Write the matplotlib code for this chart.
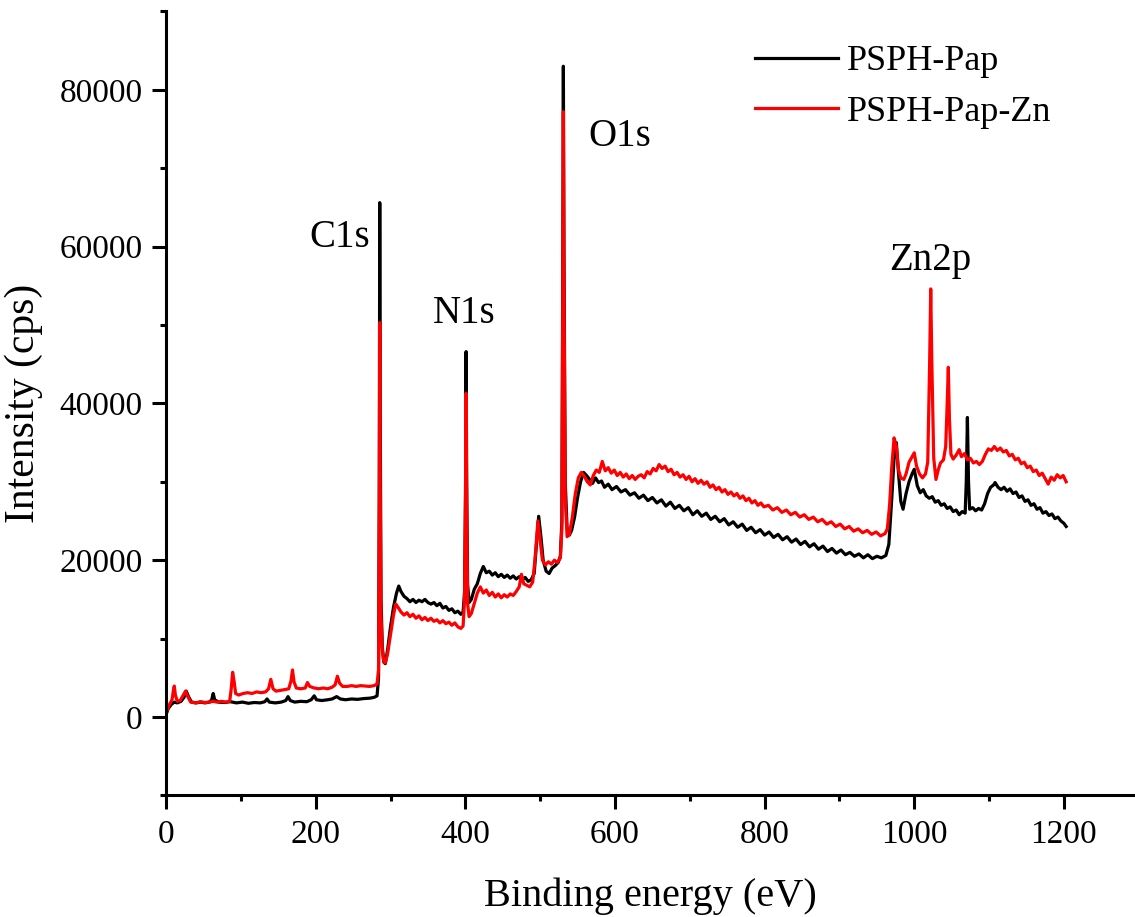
import matplotlib
matplotlib.use("Agg")
import matplotlib.pyplot as plt
from matplotlib.ticker import MultipleLocator

plt.rcParams['font.family'] = ['Liberation Serif', 'DejaVu Serif']

# PSPH-Pap (black), (binding energy eV, cps)
pap_points = [
    (0, 300), (3, 1100), (7, 1600), (11, 1900), (15, 1800), (20, 2000), (24, 2500), (27, 3300),
    (30, 2600), (34, 1900), (40, 1800), (46, 1900), (52, 1800), (58, 1900), (61, 2200), (63, 3000),
    (65, 2200), (70, 1900), (78, 1850), (86, 1950), (94, 1800), (102, 1900), (110, 1750), (118, 1850),
    (126, 1800), (132, 1950), (135, 2300), (138, 1900), (146, 1800), (154, 1900), (160, 2100),
    (163, 2600), (166, 2100), (172, 1900), (180, 2000), (188, 1950), (194, 2200), (198, 2700),
    (201, 2200), (208, 2100), (216, 2200), (222, 2300), (228, 2600), (233, 2300), (240, 2200),
    (248, 2300), (256, 2250), (264, 2350), (272, 2400), (278, 2500), (282, 2700), (284, 5000),
    (285, 30000), (285.6, 65600), (286.2, 40000), (287.3, 15000), (289, 9000), (291, 7000),
    (293, 6800), (296, 8500), (300, 11500), (304, 14000), (308, 15800), (311, 16700), (314, 16000),
    (318, 15400), (322, 15100), (326, 14700), (330, 15000), (334, 14600), (338, 14900), (342, 14700),
    (346, 15000), (350, 14600), (354, 14400), (358, 14600), (362, 14200), (366, 14500), (370, 13900),
    (374, 14100), (378, 13600), (382, 13800), (386, 13300), (390, 13500), (394, 13100), (397, 13400),
    (399, 16000), (400.3, 30000), (401, 46600), (401.8, 30000), (403, 17000), (405, 14600),
    (408, 15000), (412, 16300), (416, 17000), (420, 18300), (424, 19200), (428, 18400), (432, 18600),
    (436, 18100), (440, 18400), (444, 17900), (448, 18200), (452, 17800), (456, 18100), (460, 17700),
    (464, 18000), (468, 17600), (472, 17900), (476, 17500), (480, 17800), (484, 17300), (488, 17500),
    (492, 18300), (495, 22000), (498, 25600), (501, 23000), (504, 20000), (508, 18600), (512, 18300),
    (516, 19000), (520, 19300), (524, 19700), (527, 20500), (529, 25000), (530.3, 60000),
    (531, 83000), (531.8, 60000), (533.5, 30000), (536, 24000), (539, 23200), (542, 23800),
    (546, 25500), (550, 28000), (554, 30000), (558, 31200), (562, 30800), (566, 30300), (570, 29800),
    (574, 30500), (578, 29900), (582, 30100), (586, 29300), (591, 29700), (596, 29000), (602, 29400),
    (608, 28700), (614, 29000), (620, 28300), (626, 28600), (632, 27900), (638, 28300), (644, 27600),
    (650, 28000), (656, 27300), (662, 27700), (668, 26900), (674, 27400), (680, 26600), (686, 27000),
    (692, 26300), (698, 26700), (704, 25800), (710, 26300), (716, 25600), (722, 26000), (728, 25200),
    (734, 25600), (740, 24900), (746, 25300), (752, 24500), (758, 24900), (764, 24200), (770, 24600),
    (776, 23800), (782, 24200), (788, 23500), (794, 23900), (800, 23200), (806, 23600), (812, 22900),
    (818, 23300), (824, 22600), (830, 23000), (836, 22300), (842, 22700), (848, 22000), (854, 22400),
    (860, 21700), (866, 22100), (872, 21400), (878, 21800), (884, 21100), (890, 21500), (896, 20900),
    (902, 21300), (908, 20700), (914, 21000), (920, 20500), (926, 20800), (932, 20300), (938, 20700),
    (944, 20200), (950, 20500), (956, 20300), (962, 20600), (966, 22000), (970, 28000), (973, 33000),
    (976, 35000), (979, 31000), (982, 27500), (985, 26500), (989, 28500), (993, 30000), (997, 31000),
    (1000, 31600), (1004, 29500), (1008, 28600), (1012, 29000), (1016, 28200), (1020, 27900),
    (1024, 28100), (1028, 27400), (1032, 27600), (1036, 27000), (1040, 27200), (1044, 26600),
    (1048, 26800), (1052, 26200), (1056, 26400), (1060, 25800), (1064, 26200), (1068, 26000),
    (1069.5, 30000), (1071, 38200), (1072.5, 30000), (1074, 26500), (1078, 26700), (1082, 26300),
    (1086, 26600), (1090, 26400), (1094, 27200), (1098, 28500), (1102, 29300), (1106, 29600),
    (1108, 29900), (1112, 29300), (1116, 29000), (1120, 29300), (1124, 28800), (1128, 29100),
    (1132, 28500), (1136, 28700), (1140, 28000), (1144, 28200), (1148, 27500), (1152, 27700),
    (1156, 27000), (1160, 27200), (1164, 26500), (1168, 26700), (1172, 26000), (1176, 26200),
    (1180, 25700), (1184, 25900), (1188, 25300), (1192, 25500), (1196, 25000), (1200, 24700),
    (1203, 24300),
]

# PSPH-Pap-Zn (red)
zn_points = [
    (0, 500), (4, 1500), (8, 2200), (10, 3500), (11, 3950), (12.5, 2800), (15, 2000), (19, 2100),
    (23, 2800), (26, 3300), (29, 2600), (33, 1900), (40, 1800), (46, 1950), (52, 1850), (58, 1900),
    (63, 2000), (68, 1900), (74, 2000), (80, 1900), (85, 2000), (87, 3500), (89, 5700), (91, 4500),
    (93, 3000), (97, 2800), (103, 3000), (109, 3100), (115, 3000), (121, 3200), (127, 3100),
    (133, 3200), (137, 3600), (140, 4800), (143, 3600), (147, 3300), (153, 3400), (159, 3500),
    (164, 3600), (167, 4600), (169, 6000), (171, 4500), (174, 3700), (180, 3600), (186, 3700),
    (189, 4400), (192, 3900), (198, 3700), (204, 3600), (210, 3700), (216, 3600), (222, 3800),
    (226, 4100), (229, 5200), (232, 4300), (236, 3900), (242, 3900), (248, 4000), (254, 3900),
    (260, 4000), (266, 3950), (272, 3900), (278, 4000), (282, 4200), (284, 6000), (285, 25000),
    (285.6, 50300), (286.2, 30000), (287.3, 13000), (289, 8500), (291, 7000), (293, 6900),
    (296, 8000), (300, 10500), (304, 13000), (307, 14400), (310, 14000), (314, 13400), (318, 13000),
    (322, 13300), (326, 12800), (330, 13100), (334, 12600), (338, 12900), (342, 12400), (346, 12700),
    (350, 12300), (354, 12600), (358, 12200), (362, 12400), (366, 12000), (370, 12300), (374, 11900),
    (378, 12100), (382, 11700), (386, 12000), (390, 11500), (394, 11300), (397, 11600), (399, 15000),
    (400.3, 28000), (401, 41300), (401.8, 26000), (403, 14500), (405, 12800), (408, 13200),
    (412, 14500), (416, 15800), (420, 16600), (424, 15800), (428, 16200), (432, 15500), (436, 15900),
    (440, 15300), (444, 15700), (448, 15200), (452, 15600), (456, 15300), (460, 15700), (464, 15500),
    (468, 16000), (472, 16600), (475, 18200), (478, 17000), (482, 16800), (486, 16600), (490, 17200),
    (493, 20000), (497, 25000), (500, 22500), (503, 20000), (507, 19400), (511, 19800), (515, 19500),
    (519, 20000), (523, 19700), (527, 20300), (529, 24000), (530.3, 55000), (531, 77200),
    (531.8, 55000), (533.5, 28000), (536, 23000), (539, 23300), (543, 25500), (547, 28500),
    (551, 30500), (555, 31200), (559, 30700), (563, 30000), (567, 29600), (571, 30800), (575, 31500),
    (579, 31200), (583, 32600), (587, 31400), (591, 31800), (595, 31100), (599, 31500), (603, 30800),
    (607, 31200), (611, 30600), (615, 31000), (619, 30400), (623, 30800), (627, 30300), (631, 30700),
    (635, 30900), (639, 30500), (643, 31300), (647, 31000), (651, 31700), (655, 31400), (659, 32200),
    (663, 31700), (667, 32000), (671, 31300), (675, 31600), (679, 30900), (683, 31200), (687, 30600),
    (691, 30900), (695, 30300), (699, 30700), (703, 30000), (707, 30400), (711, 29800), (715, 30200),
    (719, 29700), (723, 30000), (727, 29300), (731, 29600), (735, 29000), (739, 29300), (743, 28700),
    (747, 29000), (751, 28400), (755, 28700), (759, 28200), (763, 28500), (767, 27900), (771, 28200),
    (775, 27600), (779, 27900), (783, 27300), (787, 27600), (791, 27000), (795, 27300), (799, 26800),
    (805, 27000), (811, 26400), (817, 26700), (823, 26100), (829, 26400), (835, 25800), (841, 26100),
    (847, 25500), (853, 25800), (859, 25200), (865, 25500), (871, 24900), (877, 25200), (883, 24600),
    (889, 24900), (895, 24300), (901, 24600), (907, 24000), (913, 24300), (919, 23700), (925, 24000),
    (931, 23500), (937, 23800), (943, 23300), (949, 23600), (955, 23100), (961, 23400), (964, 24000),
    (967, 27000), (970, 32000), (973, 35600), (976, 34500), (979, 31500), (982, 30500), (986, 30300),
    (989, 31000), (993, 32500), (997, 33200), (1000, 33700), (1003, 32000), (1007, 31000),
    (1011, 30500), (1015, 31000), (1018, 32500), (1020.5, 45000), (1022, 54600), (1023.5, 45000),
    (1026, 33000), (1029, 30300), (1032, 31500), (1035, 32400), (1039, 32800), (1042, 34500),
    (1044, 40000), (1045.5, 44600), (1047, 38000), (1049, 33500), (1052, 32900), (1056, 33400),
    (1060, 34100), (1063, 33200), (1067, 33600), (1071, 32800), (1075, 33000), (1079, 32400),
    (1083, 32600), (1087, 32200), (1091, 32600), (1095, 33500), (1099, 34200), (1103, 34000),
    (1107, 34500), (1111, 34000), (1115, 34300), (1119, 33800), (1123, 34000), (1127, 33300),
    (1131, 33500), (1135, 32800), (1139, 33000), (1143, 32300), (1147, 32500), (1151, 31800),
    (1155, 32000), (1159, 31300), (1163, 31500), (1167, 30800), (1171, 31100), (1175, 30400),
    (1179, 29700), (1183, 30600), (1187, 30200), (1191, 30900), (1195, 30500), (1199, 30800),
    (1203, 30000),
]

pap_ev = [p[0] for p in pap_points]
pap_cps = [p[1] for p in pap_points]
zn_ev = [p[0] for p in zn_points]
zn_cps = [p[1] for p in zn_points]

peak_labels = ['C1s', 'N1s', 'O1s', 'Zn2p']
peak_label_ev = [191, 357, 564, 967]
peak_label_cps = [59900, 50200, 72800, 57000]

fig = plt.figure(figsize=(11.35, 9.17), dpi=100)
ax = fig.add_axes([0.1463, 0.1326, 0.8537, 0.855])

ax.plot(pap_ev, pap_cps, color='black', lw=2.3, label='PSPH-Pap')
ax.plot(zn_ev, zn_cps, color='#ff0000', lw=2.3, label='PSPH-Pap-Zn')

for name, xv, yv in zip(peak_labels, peak_label_ev, peak_label_cps):
    ax.text(xv, yv, name, fontsize=28, ha='left', va='baseline')

ax.set_xlim(0, 1295)
ax.set_ylim(-10000, 90000)
ax.xaxis.set_major_locator(MultipleLocator(200))
ax.xaxis.set_minor_locator(MultipleLocator(100))
ax.yaxis.set_major_locator(MultipleLocator(20000))
ax.yaxis.set_minor_locator(MultipleLocator(10000))

for side in ['top', 'right']:
    ax.spines[side].set_visible(False)
for side in ['left', 'bottom']:
    ax.spines[side].set_linewidth(2.2)

ax.tick_params(which='major', direction='out', length=10, width=2.2, labelsize=24, pad=7)
ax.tick_params(which='minor', direction='out', length=4.5, width=2.2)

ax.set_xlabel('Binding energy (eV)', fontsize=29, labelpad=20)
ax.set_ylabel('Intensity (cps)', fontsize=30, labelpad=12)

ax.legend(loc='upper left', bbox_to_anchor=(755 / 1135, 1 - 45 / 917), bbox_transform=fig.transFigure,
          frameon=False, fontsize=26, handlelength=2.3, handletextpad=0.25, labelspacing=0.48,
          borderpad=0, borderaxespad=0)

fig.savefig('out.png', dpi=100)
